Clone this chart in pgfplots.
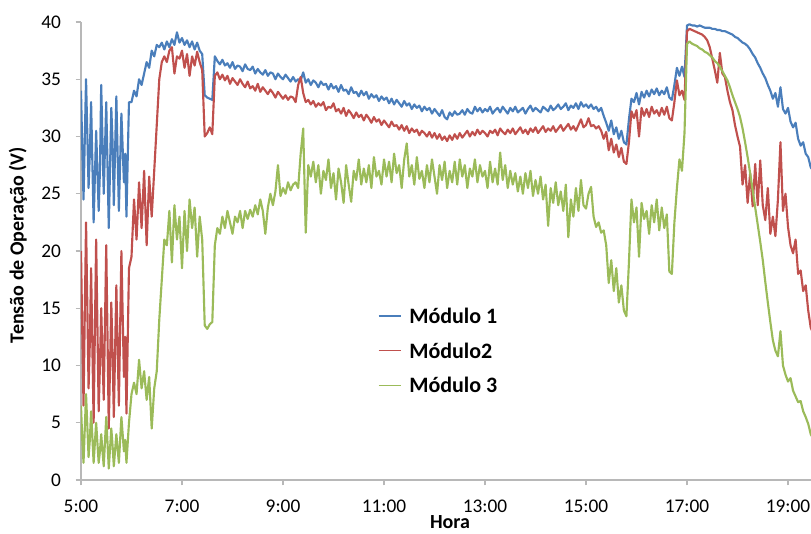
\documentclass[border=0pt]{standalone}
\usepackage{fontspec}
\setmainfont{Carlito}
\usepackage{pgfplots}
\pgfplotsset{compat=1.18}
\usepackage{pgfplotstable}
\definecolor{c1}{HTML}{4A7EBB}
\definecolor{c2}{HTML}{C0504D}
\definecolor{c3}{HTML}{9BBB59}
\definecolor{axgray}{HTML}{B8B8B8}
\pgfplotstableread{
t b r g
5.00 34.0 20.0 6.5
5.025 29.0 13.0 3.5
5.05 24.5 6.5 1.5
5.10 35.0 22.5 7.5
5.15 25.5 8.0 2.0
5.175 28.5 12.0 3.5
5.20 33.0 18.5 6.0
5.25 22.5 5.0 1.5
5.30 30.5 21.0 5.0
5.35 23.5 6.0 1.5
5.375 27.0 10.0 2.5
5.40 34.5 15.0 4.0
5.45 25.0 7.0 1.2
5.50 33.0 20.5 5.5
5.55 22.0 4.5 1.0
5.60 32.5 15.5 4.5
5.625 29.5 11.0 3.0
5.65 24.0 5.5 1.2
5.70 33.5 17.0 4.0
5.75 23.5 6.5 1.5
5.80 32.0 20.0 5.5
5.85 26.0 9.0 2.5
5.875 28.5 12.5 3.5
5.90 23.0 5.8 1.5
5.95 33.0 18.5 5.0
6.00 33.0 19.5 7.5
6.05 34.0 24.5 8.5
6.10 33.5 21.0 7.5
6.15 35.0 26.0 10.5
6.20 34.5 22.0 8.0
6.25 35.5 27.0 9.5
6.30 36.5 20.5 7.0
6.35 36.0 26.5 9.0
6.40 37.5 23.0 4.5
6.45 37.0 27.0 8.0
6.50 38.0 31.0 9.5
6.55 37.8 35.0 14.0
6.60 38.2 36.5 17.5
6.65 37.6 37.0 21.0
6.70 38.3 36.5 20.5
6.75 37.8 37.5 23.5
6.80 38.5 37.8 19.0
6.85 38.0 35.5 24.0
6.90 39.1 37.0 21.0
6.95 38.2 36.8 23.0
7.00 38.6 37.5 18.5
7.05 38.0 36.0 23.5
7.10 38.4 37.2 20.0
7.15 37.8 35.3 24.5
7.20 38.3 37.0 22.0
7.25 37.6 36.2 23.8
7.30 38.2 37.4 19.5
7.35 37.5 36.5 23.0
7.40 37.2 35.8 21.0
7.45 33.6 30.0 13.5
7.50 33.4 30.3 13.2
7.55 33.3 30.8 13.6
7.60 33.2 30.2 13.8
7.65 37.0 35.3 20.5
7.70 36.6 35.6 22.0
7.75 36.3 35.0 21.5
7.80 36.7 35.4 23.0
7.85 36.2 34.9 22.0
7.90 36.4 35.3 23.5
7.95 36.0 34.6 22.5
8.00 36.5 35.1 21.5
8.05 35.9 34.8 23.0
8.10 36.2 34.5 22.5
8.15 36.1 35.0 23.5
8.20 35.7 34.6 22.0
8.25 36.3 34.3 23.5
8.30 35.9 34.8 22.8
8.35 35.8 34.2 23.6
8.40 36.1 34.4 23.0
8.45 35.5 34.0 24.0
8.50 35.9 34.6 23.2
8.55 35.6 33.9 24.5
8.60 35.4 34.3 23.5
8.65 35.8 34.0 21.5
8.70 35.3 33.7 23.8
8.75 35.6 34.1 25.0
8.80 35.5 33.8 24.0
8.85 35.0 33.4 25.2
8.90 35.5 33.9 27.5
8.95 35.2 33.6 24.8
9.00 35.0 33.3 25.5
9.05 35.4 33.6 25.0
9.10 35.1 33.2 26.0
9.15 34.8 33.5 25.3
9.20 35.2 33.4 25.8
9.25 34.8 33.0 26.0
9.30 35.0 34.5 25.5
9.35 34.9 35.2 28.5
9.40 35.6 33.8 30.7
9.45 34.7 33.0 21.6
9.50 35.0 33.2 27.5
9.55 34.5 32.8 26.5
9.60 34.9 33.1 27.8
9.65 34.7 32.6 26.0
9.70 34.3 32.9 27.5
9.75 34.8 32.7 25.0
9.80 34.5 33.0 27.0
9.85 34.6 32.3 26.2
9.90 34.1 32.6 28.0
9.95 34.6 32.5 25.5
10.00 34.2 32.9 26.8
10.05 34.4 32.2 24.5
10.10 33.9 32.4 27.2
10.15 34.5 32.0 26.0
10.20 34.0 32.5 24.2
10.25 34.1 31.8 27.5
10.30 33.7 32.3 25.8
10.35 34.3 32.0 24.3
10.40 33.8 31.6 27.0
10.45 33.9 32.1 26.2
10.50 33.5 31.7 28.0
10.55 34.0 31.9 25.8
10.60 33.6 31.4 27.2
10.65 33.9 31.9 26.0
10.70 33.3 31.6 27.5
10.75 33.7 31.2 25.5
10.80 33.4 31.7 28.2
10.85 33.6 31.3 26.5
10.90 33.1 31.5 27.0
10.95 33.5 31.0 25.8
11.00 33.2 31.4 28.0
11.05 33.4 31.1 26.5
11.10 32.9 30.8 27.8
11.15 33.3 31.3 26.0
11.20 32.8 30.9 28.5
11.25 33.2 31.0 26.8
11.30 32.9 30.6 27.5
11.35 32.6 31.0 25.5
11.40 33.1 30.5 28.0
11.45 32.7 30.9 29.4
11.50 32.9 30.3 26.5
11.55 32.4 30.7 27.5
11.60 32.8 30.4 25.8
11.65 32.5 30.6 28.2
11.70 32.7 30.1 26.3
11.75 32.2 30.5 27.0
11.80 32.6 30.3 25.5
11.85 32.3 30.0 27.5
11.90 32.5 30.4 26.0
11.95 32.0 29.9 28.0
12.00 32.4 30.3 26.5
12.05 32.1 29.8 25.0
12.10 31.8 30.2 27.5
12.15 32.3 29.7 26.2
12.20 31.7 30.0 27.8
12.25 31.5 29.6 25.5
12.30 32.1 30.1 27.0
12.35 31.8 29.7 26.0
12.40 32.2 30.2 27.8
12.45 31.9 29.8 25.8
12.50 32.0 30.3 28.0
12.55 32.3 29.9 26.5
12.60 31.9 30.2 27.5
12.65 32.4 30.5 25.5
12.70 32.1 30.0 27.2
12.75 32.0 30.4 26.5
12.80 32.6 30.1 28.0
12.85 32.2 30.6 26.0
12.90 32.5 30.2 27.5
12.95 32.1 30.5 26.5
13.00 32.4 30.3 27.0
13.05 32.2 30.0 25.5
13.10 32.6 30.5 27.8
13.15 32.0 30.3 26.0
13.20 32.3 30.6 27.2
13.25 32.5 30.1 25.8
13.30 32.1 30.7 28.6
13.35 32.6 30.4 26.2
13.40 32.3 30.2 27.5
13.45 32.0 30.6 25.5
13.50 32.5 30.3 27.0
13.55 32.2 30.7 25.8
13.60 32.6 30.2 26.8
13.65 32.1 30.5 25.2
13.70 32.3 30.8 26.5
13.75 32.5 30.3 25.0
13.80 32.0 30.6 26.8
13.85 32.4 30.2 25.5
13.90 32.7 30.7 27.0
13.95 32.2 30.4 24.8
14.00 32.5 30.8 26.2
14.05 32.3 30.3 25.0
14.10 32.1 30.6 26.5
14.15 32.6 30.9 24.5
14.20 32.4 30.4 25.8
14.25 32.2 30.7 22.2
14.30 32.7 30.5 25.5
14.35 32.3 30.9 24.2
14.40 32.5 30.4 26.0
14.45 32.8 30.7 24.0
14.50 32.4 31.0 25.2
14.55 32.6 30.5 23.5
14.60 32.9 30.8 25.8
14.65 32.3 31.1 21.2
14.70 32.7 30.6 24.5
14.75 32.5 30.9 23.0
14.80 32.9 30.5 25.5
14.85 32.4 31.0 23.5
14.90 33.0 31.5 26.2
14.95 32.6 30.8 24.0
15.00 32.8 31.0 23.7
15.05 32.5 31.6 25.0
15.10 32.8 30.9 25.6
15.15 32.4 31.0 23.0
15.20 32.6 30.7 22.1
15.25 32.2 30.9 22.5
15.30 32.5 30.5 21.6
15.35 31.8 29.8 21.8
15.40 31.2 30.4 20.5
15.45 30.5 28.8 17.2
15.50 31.4 29.8 19.2
15.55 30.2 28.6 16.5
15.60 30.8 29.3 18.5
15.65 29.8 28.2 15.5
15.70 30.5 29.0 17.0
15.75 29.5 27.8 14.8
15.80 29.3 27.6 14.3
15.85 31.5 29.5 19.0
15.90 33.3 32.2 24.5
15.95 33.0 31.6 22.5
16.00 33.8 32.3 23.8
16.05 32.8 30.0 19.5
16.10 33.9 32.5 24.2
16.15 33.4 31.8 22.8
16.20 34.0 32.4 23.5
16.25 33.5 31.7 21.5
16.30 34.1 32.6 24.0
16.35 33.7 32.0 22.5
16.40 34.2 32.3 24.5
16.45 33.6 31.8 21.8
16.50 34.0 32.5 23.8
16.55 33.7 31.9 22.0
16.60 34.3 32.6 23.2
16.65 33.4 31.6 18.2
16.70 33.2 31.4 18.0
16.75 34.5 33.0 22.5
16.80 36.0 34.9 25.5
16.85 35.3 33.6 28.0
16.90 36.1 34.0 27.0
16.95 35.2 33.2 30.3
17.00 39.7 39.2 38.1
17.05 39.8 39.4 38.3
17.10 39.7 39.3 38.1
17.15 39.7 39.2 38.0
17.20 39.6 39.1 37.9
17.25 39.7 39.0 37.7
17.30 39.6 38.9 37.6
17.35 39.5 38.7 37.4
17.40 39.5 38.4 37.3
17.45 39.5 37.8 37.1
17.50 39.4 36.8 36.9
17.55 39.4 35.8 36.6
17.60 39.3 34.7 36.4
17.65 39.3 37.3 36.1
17.70 39.2 35.5 35.7
17.75 39.2 35.2 35.3
17.80 39.1 34.0 34.9
17.85 39.0 33.0 34.3
17.90 38.9 32.3 33.6
17.95 38.7 31.0 33.0
18.00 38.6 30.0 32.4
18.05 38.4 29.1 31.7
18.10 38.2 25.8 30.7
18.15 38.1 27.5 29.5
18.20 37.9 24.2 28.2
18.25 37.6 26.8 26.8
18.30 37.2 23.9 25.3
18.35 36.9 27.6 23.8
18.40 36.4 24.0 22.3
18.45 36.0 27.9 20.8
18.50 35.5 24.0 19.2
18.55 35.1 22.7 17.3
18.60 34.5 25.5 15.5
18.65 34.0 21.5 13.8
18.70 33.3 23.0 12.2
18.75 33.8 21.3 11.3
18.80 32.6 24.5 10.8
18.85 34.3 29.5 13.0
18.90 32.4 23.5 10.0
18.95 32.0 25.0 9.2
19.00 32.5 22.1 8.6
19.05 31.3 20.5 8.9
19.10 30.8 19.8 7.8
19.15 31.2 21.0 7.3
19.20 29.8 18.0 6.8
19.25 29.2 18.3 6.9
19.30 29.5 16.5 6.0
19.35 28.5 17.0 5.5
19.40 28.2 14.8 4.9
19.45 27.3 13.3 4.0
19.50 27.0 12.8 3.6
}\data

\begin{document}
\begin{tikzpicture}
\begin{axis}[
  at={(0,0)}, anchor=south west,
  scale only axis, width=547.5pt, height=343.5pt,
  xmin=5, xmax=19.455, ymin=0, ymax=40,
  axis lines*=left,
  axis line style={axgray, line width=0.8pt},
  xtick={5,7,...,19},
  xticklabels={5:00,7:00,9:00,11:00,13:00,15:00,17:00,19:00},
  ytick={0,5,...,40},
  tick align=outside, major tick length=4pt,
  tick style={axgray, line width=0.8pt},
  /pgf/number format/assume math mode=true,
  ticklabel style={font=\fontsize{14.5}{16}\selectfont},
  xticklabel style={yshift=-7.5pt},
  yticklabel style={xshift=-7.5pt},
  xlabel={Hora},
  ylabel={Tensão de Operação (V)},
  every axis y label/.style={at={(axis description cs:-0.0863,0.513)}, rotate=90, anchor=center,
    font=\bfseries\fontsize{15}{18}\selectfont},
  every axis x label/.style={at={(axis description cs:0.5055,-0.105)}, anchor=base,
    font=\bfseries\fontsize{15}{18}\selectfont},
  legend style={at={(axis cs:10.88,14.95)}, anchor=north west, draw=none, fill=none,
    inner sep=0pt, outer sep=0pt, row sep=14.9pt, column sep=6pt,
    nodes={inner sep=0pt, text height=11pt, text depth=0pt, font=\bfseries\fontsize{16.5}{19}\selectfont}},
  legend cell align=left,
  legend image code/.code={\draw[#1, line width=1pt] (0pt,0pt) -- (16.5pt,0pt);},
]
\addplot[c1, line width=1.6pt, line join=round] table[x=t,y=b]{\data};
\addlegendentry{Módulo 1}
\addplot[c2, line width=1.6pt, line join=round] table[x=t,y=r]{\data};
\addlegendentry{Módulo2}
\addplot[c3, line width=1.6pt, line join=round] table[x=t,y=g]{\data};
\addlegendentry{Módulo 3}
\end{axis}
\pgfresetboundingbox
\path[use as bounding box] (-60.75pt,-39.75pt) rectangle (547.5pt,360pt);
\end{tikzpicture}
\end{document}
